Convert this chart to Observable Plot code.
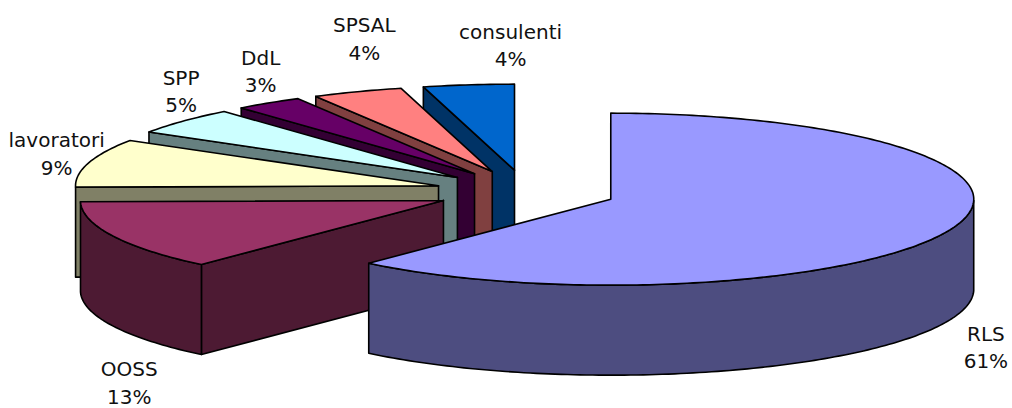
<!DOCTYPE html>
<html lang="it">
<head>
<meta charset="utf-8">
<title>Ripartizione percentuale</title>
<script src="https://cdn.jsdelivr.net/npm/d3@7"></script>
<script src="https://cdn.jsdelivr.net/npm/@observablehq/plot@0.6"></script>
<style>
  html, body { margin: 0; padding: 0; background: #fff; }
  svg { display: block; }
</style>
</head>
<body>
<div id="chart"></div>
<script>
// Share of each group, clockwise from twelve o'clock
const categories = ["RLS", "OOSS", "lavoratori", "SPP", "DdL", "SPSAL", "consulenti"];
const shares = [61, 13, 9, 5, 3, 4, 4];

// Top face and side wall colours
const topColors = ["#9999FF", "#993366", "#FFFFCC", "#CCFFFF", "#660066", "#FF8080", "#0066CC"];
const wallColors = ["#4D4D80", "#4D1A33", "#808066", "#668080", "#330033", "#804040", "#003366"];

// Label clearance from each slice's rim, in pixels
const labelDx = [36, 16, -32, -2, -8, 7, 42];
const labelDy = [116, 145, -10.5, -31.5, -33.5, -54.5, -41];

// Tilted pie: the unit circle maps to an ellipse through the two position scales
const width = 1012, height = 408;
const centerX = 525.5, centerY = 191;   // pie centre, px
const radiusX = 363, radiusY = 86;      // one data unit on each axis, px
const explode = 0.25;                   // radial offset of every slice
const depth = 90 / radiusY;             // wall height in y units

const arcs = d3.pie().sort(null).value((d) => d)(shares);

const rim = (a) => [Math.sin(a), -Math.cos(a)];

const slices = arcs.map((arc, i) => {
  const mid = (arc.startAngle + arc.endAngle) / 2;
  const [ox, oy] = rim(mid).map((v) => v * explode);
  const steps = Math.ceil((arc.endAngle - arc.startAngle) / (Math.PI / 180));
  const outline = d3.range(steps + 1).map((k) => {
    const a = arc.startAngle + (arc.endAngle - arc.startAngle) * k / steps;
    const [x, y] = rim(a);
    return {a, x: ox + x, y: oy + y};
  });
  const apex = {x: ox, y: oy};
  return {i, mid, ox, oy, apex, outline};
});

const polygons = [];
const addPolygon = (id, fill, points) => {
  const closed = [...points, points[0]];
  closed.forEach((p) => polygons.push({id, fill, x: p.x, y: p.y}));
};
const drop = (p) => ({x: p.x, y: p.y + depth});

// Farthest slice first, so nearer ones overlap it; RLS comes last
[6, 5, 4, 3, 2, 1, 0].forEach((i) => {
  const {apex, outline} = slices[i];
  const first = outline[0], last = outline[outline.length - 1];
  const wall = wallColors[i];

  // A cut face shows only when it turns towards the viewer
  if (Math.sin(first.a) < -1e-6) {
    addPolygon(`${i}-start`, wall, [apex, first, drop(first), drop(apex)]);
  }
  if (Math.sin(last.a) > 1e-6) {
    addPolygon(`${i}-end`, wall, [apex, last, drop(last), drop(apex)]);
  }

  // The outer wall only shows along the front half of the rim
  const front = outline.filter((p) => p.y - slices[i].oy >= 0);
  if (front.length > 1) {
    addPolygon(`${i}-rim`, wall, [...front, ...front.slice().reverse().map(drop)]);
  }

  addPolygon(`${i}-top`, topColors[i], [apex, ...outline]);
});

const labelMarks = slices.map((s) => {
  const [x, y] = rim(s.mid);
  return Plot.text(
    [{label: `${categories[s.i]}\n${shares[s.i]}%`, x: s.ox + x, y: s.oy + y}],
    {
      x: "x",
      y: "y",
      text: "label",
      dx: labelDx[s.i],
      dy: labelDy[s.i],
      textAnchor: "middle",
      lineAnchor: "middle",
      lineHeight: 1.375,
      fontSize: 20,
      fill: "#111"
    }
  );
});

const chart = Plot.plot({
  width,
  height,
  margin: 0,
  style: {fontFamily: "'DejaVu Sans', sans-serif", background: "#fff"},
  x: {axis: null, domain: [-centerX / radiusX, (width - centerX) / radiusX], range: [0, width]},
  y: {axis: null, domain: [-centerY / radiusY, (height - centerY) / radiusY], range: [0, height]},
  marks: [
    Plot.line(polygons, {
      x: "x",
      y: "y",
      z: "id",
      fill: "fill",
      stroke: "#000",
      strokeWidth: 1.6,
      strokeLinejoin: "round"
    }),
    ...labelMarks
  ]
});

document.getElementById("chart").append(chart);
</script>
</body>
</html>
